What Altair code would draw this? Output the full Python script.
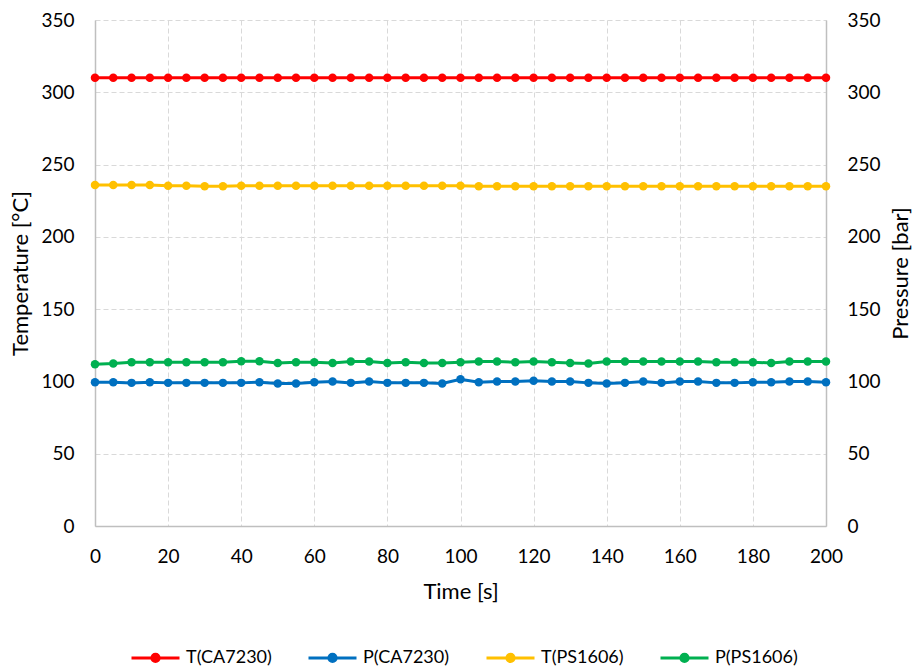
import altair as alt
import pandas as pd

times = [0, 5, 10, 15, 20, 25, 30, 35, 40, 45, 50, 55, 60, 65, 70, 75, 80, 85, 90, 95, 100,
         105, 110, 115, 120, 125, 130, 135, 140, 145, 150, 155, 160, 165, 170, 175, 180, 185, 190, 195, 200]

t_ca7230 = [310.0, 310.0, 310.0, 310.0, 310.0, 310.0, 310.0, 310.0, 310.0, 310.0, 310.0,
            310.0, 310.0, 310.0, 310.0, 310.0, 310.0, 310.0, 310.0, 310.0, 310.0,
            310.0, 310.0, 310.0, 310.0, 310.0, 310.0, 310.0, 310.0, 310.0, 310.0,
            310.0, 310.0, 310.0, 310.0, 310.0, 310.0, 310.0, 310.0, 310.0, 310.0]

p_ca7230 = [99.5, 99.5, 99.0, 99.5, 99.0, 99.0, 99.0, 99.0, 99.0, 99.5, 98.6,
            98.6, 99.5, 100.0, 99.0, 100.0, 99.0, 99.0, 99.0, 98.6, 101.5,
            99.5, 100.0, 100.0, 100.5, 100.0, 100.0, 99.0, 98.6, 99.0, 100.0,
            99.0, 100.0, 100.0, 99.0, 99.0, 99.5, 99.5, 100.0, 100.0, 99.5]

t_ps1606 = [235.8, 235.8, 235.8, 235.8, 235.3, 235.3, 235.0, 235.0, 235.3, 235.3, 235.3,
            235.3, 235.3, 235.3, 235.3, 235.3, 235.3, 235.3, 235.3, 235.3, 235.3,
            235.0, 235.0, 235.0, 235.0, 235.0, 235.0, 235.0, 235.0, 235.0, 235.0,
            235.0, 235.0, 235.0, 235.0, 235.0, 235.0, 235.0, 235.0, 235.0, 235.0]

p_ps1606 = [111.9, 112.4, 113.3, 113.3, 113.3, 113.3, 113.3, 113.3, 114.0, 114.0, 112.8,
            113.3, 113.3, 112.8, 113.8, 113.8, 112.8, 113.3, 112.8, 112.8, 113.3,
            113.8, 113.8, 113.3, 113.8, 113.3, 112.8, 112.4, 113.8, 113.8, 113.8,
            113.8, 113.8, 113.8, 113.3, 113.3, 113.3, 112.8, 113.8, 113.8, 113.8]

series_names = ["T(CA7230)", "P(CA7230)", "T(PS1606)", "P(PS1606)"]
series_colors = ["#FF0000", "#0070C0", "#FFC000", "#00B050"]
x_ticks = [0, 20, 40, 60, 80, 100, 120, 140, 160, 180, 200]
y_ticks = [0, 50, 100, 150, 200, 250, 300, 350]

rows = []
for name, vals in zip(series_names, [t_ca7230, p_ca7230, t_ps1606, p_ps1606]):
    for t, v in zip(times, vals):
        rows.append({"time": t, "series": name, "value": v})
df = pd.DataFrame(rows)

FONT = "Lato"
GRID = "#d9d9d9"
DOMAIN = "#bfbfbf"
LABEL_SIZE = 19
TITLE_SIZE = 22

# legend symbol: a stroked line with a dot (concentric rings) in the middle
sym_path = ("M-1,0L1,0"
            "M0.15,0A0.15,0.15,0,1,1,-0.15,0A0.15,0.15,0,1,1,0.15,0"
            "M0.06,0A0.06,0.06,0,1,1,-0.06,0A0.06,0.06,0,1,1,0.06,0")

color_scale = alt.Scale(domain=series_names, range=series_colors)

legend = alt.Legend(
    title=None,
    orient="none",
    direction="horizontal",
    columns=4,
    legendX=35,
    legendY=612,
    padding=0,
    symbolType=sym_path,
    symbolSize=2304,
    symbolStrokeWidth=3,
    symbolOpacity=1,
    labelFont=FONT,
    labelFontSize=18,
    labelColor="#000000",
    labelOffset=5,
    columnPadding=30,
)

stroke_enc = alt.Stroke("series:N", scale=color_scale, legend=legend)
fill_enc = alt.Fill("series:N", scale=color_scale, legend=legend)

x = alt.X(
    "time:Q",
    scale=alt.Scale(domain=[0, 200], nice=False, zero=False),
    axis=alt.Axis(
        values=x_ticks, title="Time [s]", grid=True, gridColor=GRID, gridDash=[5, 3],
        domainColor=DOMAIN, domainWidth=1.5, ticks=False, labelPadding=21, titlePadding=15,
        labelFlush=False,
        labelFont=FONT, labelFontSize=LABEL_SIZE, titleFont=FONT, titleFontSize=TITLE_SIZE,
        titleFontWeight="normal", labelColor="#000000", titleColor="#000000",
    ),
)

left_axis = alt.Axis(
    title="Temperature [°C]", orient="left", values=y_ticks, grid=True, gridColor=GRID,
    gridDash=[5, 3], domainColor=DOMAIN, domainWidth=1.5, ticks=False, labelPadding=21,
    titlePadding=8, labelFont=FONT, labelFontSize=LABEL_SIZE, titleFont=FONT,
    titleFontSize=TITLE_SIZE, titleFontWeight="normal", labelColor="#000000",
    titleColor="#000000",
)
right_axis = alt.Axis(
    title="Pressure [bar]", orient="right", values=y_ticks, grid=False,
    domainColor=DOMAIN, domainWidth=1.5, ticks=False, labelPadding=21,
    titlePadding=10, titleAngle=270, titleBaseline="top",
    labelFont=FONT, labelFontSize=LABEL_SIZE, titleFont=FONT,
    titleFontSize=TITLE_SIZE, titleFontWeight="normal", labelColor="#000000",
    titleColor="#000000",
)

base = alt.Chart(df)

def group(members, axis):
    sub = base.transform_filter(alt.FieldOneOfPredicate(field="series", oneOf=members))
    y = alt.Y("value:Q", scale=alt.Scale(domain=[0, 350], nice=False), axis=axis)
    lines = sub.mark_line(strokeWidth=3).encode(x=x, y=y, stroke=stroke_enc, detail="series:N")
    pts = sub.mark_circle(size=72, opacity=1).encode(x=x, y=y, fill=fill_enc)
    return alt.layer(lines, pts)

temp = group(["T(CA7230)", "T(PS1606)"], left_axis)
press = group(["P(CA7230)", "P(PS1606)"], right_axis)

chart = alt.layer(temp, press).resolve_scale(y="independent").properties(
    width=731, height=506,
    autosize=alt.AutoSizeParams(type="none"),
    padding={"left": 95, "top": 20, "right": 86, "bottom": 141},
    background="#ffffff",
).configure_view(stroke=None)

chart.save("out.html", embed_options={"renderer": "svg", "actions": False})
